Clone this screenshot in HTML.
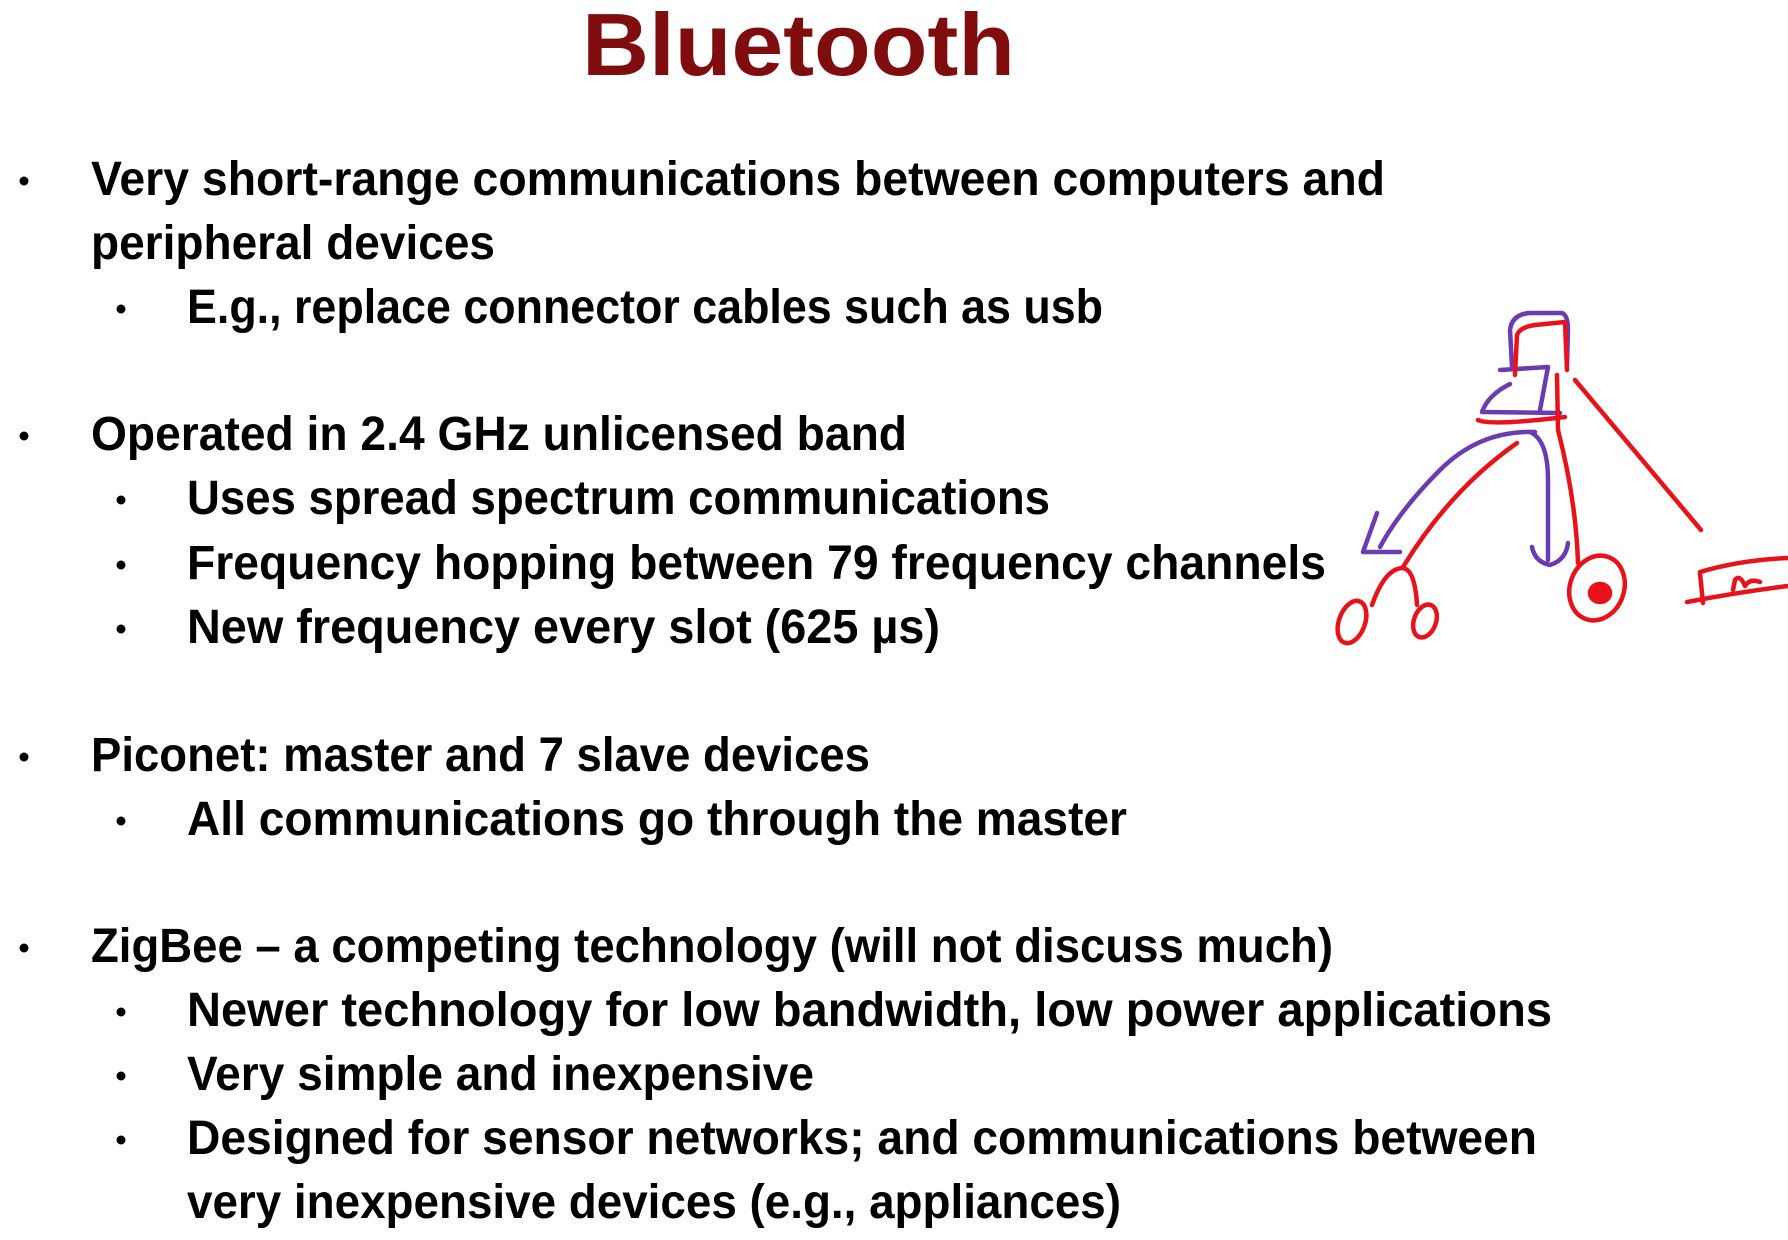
<!DOCTYPE html>
<html><head><meta charset="utf-8"><style>
html,body{margin:0;padding:0;background:#fff;}
svg{display:block;}
text{font-family:"Liberation Sans",sans-serif;font-weight:bold;fill:#000;}
</style></head><body>
<svg width="1788" height="1240" viewBox="0 0 1788 1240" xmlns="http://www.w3.org/2000/svg">
<text x="582" y="75" font-size="88" style="fill:#800d0d" textLength="433" lengthAdjust="spacingAndGlyphs">Bluetooth</text>
<g font-size="48">
<text x="91" y="195" textLength="1294" lengthAdjust="spacingAndGlyphs">Very short-range communications between computers and</text>
<text x="91" y="259" textLength="404" lengthAdjust="spacingAndGlyphs">peripheral devices</text>
<text x="187" y="323" textLength="916" lengthAdjust="spacingAndGlyphs">E.g., replace connector cables such as usb</text>
<text x="91" y="450" textLength="816" lengthAdjust="spacingAndGlyphs">Operated in 2.4 GHz unlicensed band</text>
<text x="187" y="514" textLength="863" lengthAdjust="spacingAndGlyphs">Uses spread spectrum communications</text>
<text x="187" y="579" textLength="1139" lengthAdjust="spacingAndGlyphs">Frequency hopping between 79 frequency channels</text>
<text x="187" y="643" textLength="753" lengthAdjust="spacingAndGlyphs">New frequency every slot (625 µs)</text>
<text x="91" y="771" textLength="779" lengthAdjust="spacingAndGlyphs">Piconet: master and 7 slave devices</text>
<text x="187" y="835" textLength="940" lengthAdjust="spacingAndGlyphs">All communications go through the master</text>
<text x="91" y="962" textLength="1242" lengthAdjust="spacingAndGlyphs">ZigBee – a competing technology (will not discuss much)</text>
<text x="187" y="1026" textLength="1365" lengthAdjust="spacingAndGlyphs">Newer technology for low bandwidth, low power applications</text>
<text x="187" y="1090" textLength="627" lengthAdjust="spacingAndGlyphs">Very simple and inexpensive</text>
<text x="187" y="1154" textLength="1350" lengthAdjust="spacingAndGlyphs">Designed for sensor networks; and communications between</text>
<text x="187" y="1218" textLength="934" lengthAdjust="spacingAndGlyphs">very inexpensive devices (e.g., appliances)</text>
</g>
<g fill="#000">
<circle cx="24" cy="181" r="4.5"/><circle cx="24" cy="436" r="4.5"/><circle cx="24" cy="757" r="4.5"/><circle cx="24" cy="948" r="4.5"/>
<circle cx="121" cy="309" r="4.5"/><circle cx="121" cy="500" r="4.5"/><circle cx="121" cy="565" r="4.5"/><circle cx="121" cy="629" r="4.5"/>
<circle cx="121" cy="821" r="4.5"/><circle cx="121" cy="1012" r="4.5"/><circle cx="121" cy="1076" r="4.5"/><circle cx="121" cy="1140" r="4.5"/>
</g>
<g fill="none" stroke-linecap="round" stroke-linejoin="round" stroke-width="4.5">
<g stroke="#6a3cb0">
<path d="M1512,367 L1510,330 Q1512,314 1530,313 L1562,313 Q1568,315 1568,330 L1567,365"/>
<path d="M1500,370 L1548,367 L1540,410"/>
<path d="M1510,384 Q1488,395 1482,412 L1560,413"/>
<path d="M1535,432 Q1480,430 1440,470 Q1400,510 1380,547"/>
<path d="M1377,513 L1363,552 L1400,552"/>
<path d="M1530,432 Q1548,440 1548,480 L1548,560"/>
<path d="M1532,547 Q1535,562 1550,565 Q1566,560 1568,543"/>
</g>
<g stroke="#e8121a">
<path d="M1515,375 L1517,335 Q1520,327 1535,325 L1565,322 L1567,370"/>
<path d="M1478,420 Q1490,426 1565,417"/>
<path d="M1575,380 L1701,530"/>
<path d="M1517,443 Q1450,490 1403,567"/>
<path d="M1372,605 Q1385,568 1403,568 Q1415,570 1417,605"/>
<ellipse cx="1352" cy="622" rx="13" ry="22" transform="rotate(20 1352 622)"/>
<ellipse cx="1425" cy="621" rx="11" ry="17" transform="rotate(20 1425 621)"/>
<path d="M1557,375 L1558,430 Q1576,500 1578,563"/>
<ellipse cx="1597" cy="588" rx="27" ry="33" transform="rotate(20 1597 588)"/>
<ellipse cx="1600" cy="593" rx="10" ry="9" fill="#e8121a"/>
<path d="M1700,573 L1703,603"/>
<path d="M1700,572 Q1740,560 1788,558"/>
<path d="M1687,602 Q1740,592 1788,586"/>
<path d="M1733,590 L1735,580 Q1740,574 1745,586 Q1750,578 1760,582"/>
</g>
</g>
</svg>
</body></html>
